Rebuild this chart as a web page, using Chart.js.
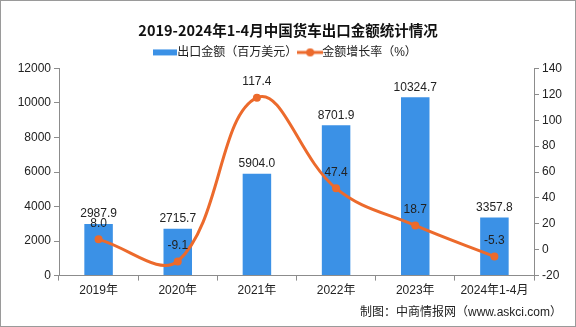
<!DOCTYPE html>
<html>
<head>
<meta charset="utf-8">
<script src="https://cdn.jsdelivr.net/npm/chart.js@4"></script>
<style>
  html, body { margin: 0; padding: 0; background: #fff; }
  #wrap { width: 576px; height: 327px; position: relative; }
</style>
</head>
<body>
<div id="wrap"><canvas id="truckChart" width="576" height="327"></canvas></div>
<script>
const categories = ['2019年', '2020年', '2021年', '2022年', '2023年', '2024年1-4月'];
const exportValue = [2987.9, 2715.7, 5904.0, 8701.9, 10324.7, 3357.8];
const growthRate = [8.0, -9.1, 117.4, 47.4, 18.7, -5.3];
const leftTicks = [0, 2000, 4000, 6000, 8000, 10000, 12000];
const rightTicks = [-20, 0, 20, 40, 60, 80, 100, 120, 140];

const barColor = '#3b91e6';
const lineColor = '#ec6a2c';
const axisColor = '#8c8c8c';
const textFont = "'Liberation Sans', 'Noto Sans CJK SC', sans-serif";

// little legend icons
function barIcon() {
  const c = document.createElement('canvas');
  c.width = 24; c.height = 8;
  const g = c.getContext('2d');
  g.fillStyle = barColor;
  g.fillRect(0, 1, 24, 6);
  return c;
}
function lineIcon() {
  const c = document.createElement('canvas');
  c.width = 26; c.height = 10;
  const g = c.getContext('2d');
  g.strokeStyle = lineColor;
  g.lineWidth = 3;
  g.beginPath(); g.moveTo(0, 5); g.lineTo(26, 5); g.stroke();
  g.fillStyle = lineColor;
  g.beginPath(); g.arc(13, 5, 4, 0, Math.PI * 2); g.fill();
  return c;
}

const valueLabels = {
  id: 'valueLabels',
  afterDatasetsDraw(chart) {
    const ctx = chart.ctx;
    ctx.save();
    ctx.font = '12px ' + textFont;
    ctx.fillStyle = '#222';
    ctx.textAlign = 'center';
    ctx.textBaseline = 'middle';
    chart.getDatasetMeta(0).data.forEach((el, i) => {
      ctx.fillText(exportValue[i].toFixed(1), el.x, el.y - 10);
    });
    chart.getDatasetMeta(1).data.forEach((el, i) => {
      ctx.fillText(growthRate[i].toFixed(1), el.x, el.y - 16);
    });
    ctx.restore();
  },
  afterDraw(chart) {
    const ctx = chart.ctx;
    ctx.save();
    ctx.font = '12px ' + textFont;
    ctx.fillStyle = '#222';
    ctx.textAlign = 'right';
    ctx.textBaseline = 'middle';
    ctx.fillText('制图：中商情报网（www.askci.com）', 562, 313);
    ctx.strokeStyle = '#9a9a9a';
    ctx.lineWidth = 1;
    ctx.strokeRect(0.5, 0.5, chart.width - 1, chart.height - 1);
    ctx.restore();
  }
};

const ctx = document.getElementById('truckChart').getContext('2d');
new Chart(ctx, {
  data: {
    labels: categories,
    datasets: [
      {
        type: 'bar',
        label: '出口金额（百万美元）',
        data: exportValue,
        backgroundColor: barColor,
        yAxisID: 'y',
        categoryPercentage: 0.36,
        barPercentage: 1,
        order: 2
      },
      {
        type: 'line',
        label: '金额增长率（%）',
        data: growthRate,
        borderColor: lineColor,
        backgroundColor: lineColor,
        borderWidth: 3,
        pointRadius: 4,
        pointBackgroundColor: lineColor,
        pointBorderWidth: 0,
        tension: 0.4,
        yAxisID: 'y1',
        order: 1
      }
    ]
  },
  options: {
    responsive: false,
    animation: false,
    layout: { padding: { top: 0, bottom: 26, left: 0, right: 0 } },
    plugins: {
      title: {
        display: true,
        text: '2019-2024年1-4月中国货车出口金额统计情况',
        color: '#111',
        font: { size: 14.5, weight: 'bold', family: "'Noto Sans CJK SC', sans-serif" },
        padding: { top: 22, bottom: 0 }
      },
      legend: {
        display: true,
        labels: {
          color: '#222',
          font: { size: 12, family: textFont },
          usePointStyle: true,
          boxHeight: 10,
          padding: 7,
          generateLabels(chart) {
            return chart.data.datasets.map((ds, i) => ({
              text: ds.label,
              pointStyle: i === 0 ? barIcon() : lineIcon(),
              fontColor: '#222',
              datasetIndex: i,
              lineWidth: 0,
              hidden: false
            }));
          }
        }
      },
      tooltip: { enabled: false }
    },
    scales: {
      x: {
        grid: { offset: true, drawOnChartArea: false, drawTicks: true, tickLength: 5, color: axisColor },
        border: { color: axisColor },
        ticks: { color: '#222', font: { size: 12, family: textFont }, padding: 3 }
      },
      y: {
        position: 'left',
        min: 0,
        max: 12000,
        afterBuildTicks(scale) { scale.ticks = leftTicks.map(v => ({ value: v })); },
        afterFit(scale) { scale.width = 59; },
        grid: { drawOnChartArea: false, drawTicks: true, tickLength: 5, color: axisColor },
        border: { color: axisColor },
        ticks: { color: '#222', font: { size: 12, family: textFont }, padding: 3, callback: v => String(v) }
      },
      y1: {
        position: 'right',
        min: -20,
        max: 140,
        afterBuildTicks(scale) { scale.ticks = rightTicks.map(v => ({ value: v })); },
        afterFit(scale) { scale.width = 42; },
        grid: { drawOnChartArea: false, drawTicks: true, tickLength: 5, color: axisColor },
        border: { color: axisColor },
        ticks: { color: '#222', font: { size: 12, family: textFont }, padding: 3, callback: v => String(v) }
      }
    }
  },
  plugins: [valueLabels]
});
</script>
</body>
</html>
